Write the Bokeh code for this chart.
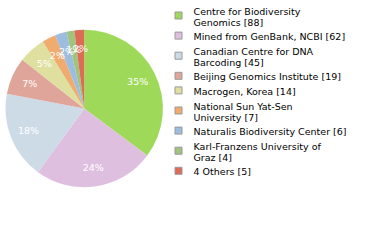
import math
from bokeh.plotting import figure
from bokeh.models import Range1d, ColumnDataSource
from bokeh.core.properties import value
from bokeh.embed import file_html
from bokeh.resources import INLINE

# ---- data ----
names = ["Centre for Biodiversity\nGenomics", "Mined from GenBank, NCBI",
         "Canadian Centre for DNA\nBarcoding", "Beijing Genomics Institute",
         "Macrogen, Korea", "National Sun Yat-Sen\nUniversity",
         "Naturalis Biodiversity Center", "Karl-Franzens University of\nGraz",
         "4 Others"]
counts = [88, 62, 45, 19, 14, 7, 6, 4, 5]
colors = ["#9fd95a", "#dfbfe0", "#cddbe7", "#e0a59a", "#dfe0a0",
          "#f0ab6e", "#9dbde0", "#a0c47c", "#dd6b55"]

W, H = 380, 240
FONT = "DejaVu Sans"

p = figure(width=W, height=H, x_range=Range1d(0, W), y_range=Range1d(0, H),
           output_backend="svg", toolbar_location=None, min_border=0)
p.axis.visible = False
p.grid.visible = False
p.outline_line_color = None
p.background_fill_color = "white"
p.border_fill_color = "white"

def Y(y):
    return H - y

# ---- pie ----
cx, cy, R = 83.7, 108.0, 78.7
total = float(sum(counts))
starts, ends, lx, ly, labs = [], [], [], [], []
acc = 0.0
for c in counts:
    a0 = math.pi / 2 - acc / total * 2 * math.pi
    acc += c
    a1 = math.pi / 2 - acc / total * 2 * math.pi
    starts.append(a0)
    ends.append(a1)
    mid = (a0 + a1) / 2
    lx.append(cx + 0.76 * R * math.cos(mid))
    ly.append(Y(cy) + 0.76 * R * math.sin(mid))
    labs.append("%d%%" % math.floor(c / total * 100))

src = ColumnDataSource(dict(s=starts, e=ends, color=colors))
p.wedge(x=cx, y=Y(cy), radius=R, start_angle="s", end_angle="e",
        direction="clock", fill_color="color", line_color=None, source=src)

p.text(x=lx, y=ly, text=labs, text_color="white", text_font=value(FONT),
       text_font_size="9.5px", text_align="center", text_baseline="middle")

# ---- legend ----
L, G = 11.0, 3.6
top = 6.0
tx, ty, tt = [], [], []
sx, sy = [], []
for n, c in zip(names, counts):
    lines = (n + " [%d]" % c).split("\n")
    for k, ln in enumerate(lines):
        tx.append(193)
        ty.append(Y(top + k * L + 4.5))
        tt.append(ln)
    sx.append(178)
    sy.append(Y(top + len(lines) * L / 2 - 2.0))
    top += len(lines) * L + G

p.rect(x=sx, y=sy, width=7, height=7, fill_color=colors, line_color="#999999",
       line_width=1)
p.text(x=tx, y=ty, text=tt, text_color="black", text_font=value(FONT),
       text_font_size="9.5px", text_align="left", text_baseline="alphabetic")

open("out.html", "w").write(file_html(p, INLINE))
